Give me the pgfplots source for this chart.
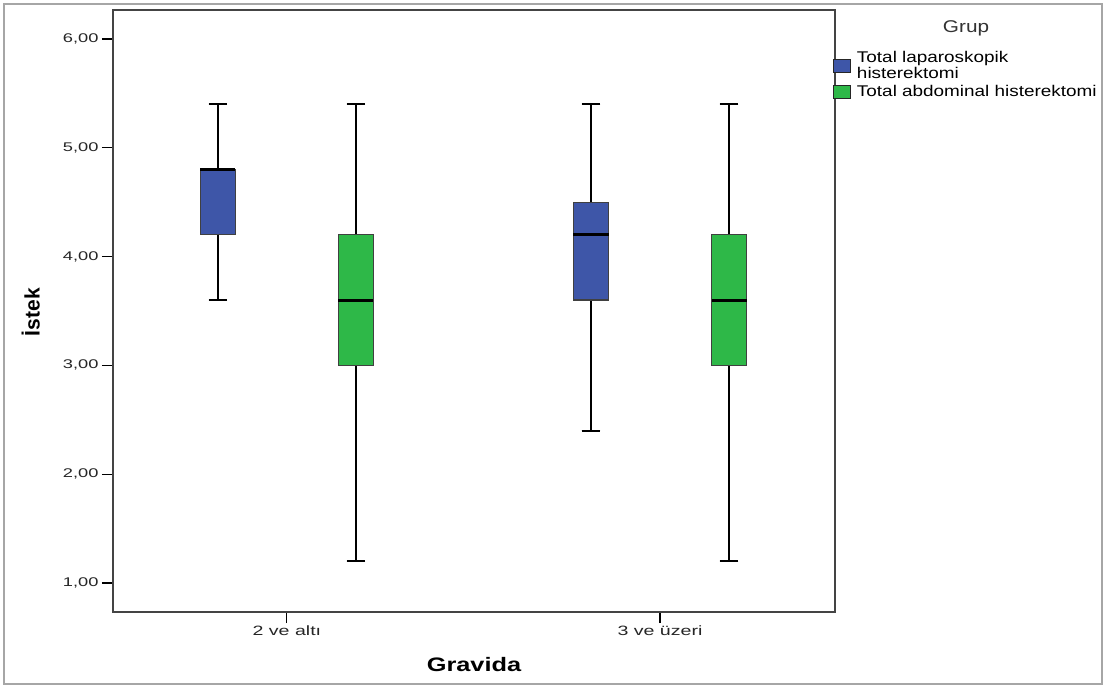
\documentclass[border=0pt]{standalone}
\usepackage{fontspec}
\setmainfont{Liberation Sans}
\newfontfamily\tickfont[FakeStretch=1.45]{Liberation Sans}
\newfontfamily\legfont[FakeStretch=1.22]{Liberation Sans}
\newfontfamily\labfont[FakeStretch=1.3]{Liberation Sans}
\usepackage{pgfplots}
\pgfplotsset{compat=1.18}
\usepgfplotslibrary{statistics}
\definecolor{lapblue}{RGB}{62,86,168}
\definecolor{abdgreen}{RGB}{46,184,72}
\definecolor{frame}{RGB}{68,68,68}
\begin{document}
\begin{tikzpicture}
\useasboundingbox (0,0) rectangle (1107bp,688bp);
\fill[white] (0,0) rectangle (1107bp,688bp);
\draw[gray!70, line width=2bp] (4bp,4bp) rectangle (1102bp,684bp);
\begin{axis}[
  at={(113bp,76bp)}, anchor=south west,
  scale only axis, width=722bp, height=602bp,
  xmin=-0.466, xmax=1.469, ymin=0.733, ymax=6.267,
  axis line style={frame, line width=1.2bp},
  tick align=outside, major tick length=11bp,
  tick style={black, line width=1.2bp},
  xtick={0,1}, xticklabels={2 ve altı, 3 ve üzeri},
  ytick={1,2,3,4,5,6},
  xtick pos=bottom, ytick pos=left,
  yticklabel style={/pgf/number format/.cd, fixed, fixed zerofill, precision=2, use comma, assume math mode=true},
  ticklabel style={font=\tickfont\fontsize{12.6bp}{14bp}\selectfont, text=black!85},
  xticklabel style={font=\tickfont\fontsize{13.5bp}{14bp}\selectfont, yshift=1bp},
  xlabel={Gravida}, ylabel={İstek},
  xlabel style={font=\labfont\fontsize{19.5bp}{20bp}\selectfont\bfseries, at={(axis description cs:0.5,-0.088)}, anchor=center},
  ylabel style={font=\fontsize{21bp}{22bp}\selectfont\bfseries, at={(axis description cs:-0.114,0.498)}, anchor=center},
  boxplot/draw direction=y,
  boxplot/every box/.style={draw=black!75, line width=1.3bp},
  boxplot/every whisker/.style={black, line width=1.7bp},
  boxplot/every median/.style={black, line width=3.2bp},
  legend style={at={(rel axis cs:0.9975,0.935)}, anchor=north west, draw=none, fill=none, inner sep=0pt, outer sep=0pt,
    font=\legfont\fontsize{15.5bp}{15bp}\selectfont, row sep=1bp, cells={anchor=west, align=left}},
  legend image code/.code={\draw[#1, draw=black!85, line width=1.2bp] (0bp,-6.5bp) rectangle (17bp,6.5bp); \path (21bp,0bp);},
]
\addplot[fill=lapblue, forget plot, boxplot prepared={lower whisker=3.6, lower quartile=4.2, median=4.8, upper quartile=4.8, upper whisker=5.4, draw position=-0.185, box extend=0.094, whisker extend=0.05}] coordinates {};
\addplot[fill=abdgreen, forget plot, boxplot prepared={lower whisker=1.2, lower quartile=3.0, median=3.6, upper quartile=4.2, upper whisker=5.4, draw position=0.185, box extend=0.094, whisker extend=0.05}] coordinates {};
\addplot[fill=lapblue, forget plot, boxplot prepared={lower whisker=2.4, lower quartile=3.6, median=4.2, upper quartile=4.5, upper whisker=5.4, draw position=0.815, box extend=0.094, whisker extend=0.05}] coordinates {};
\addplot[fill=abdgreen, forget plot, boxplot prepared={lower whisker=1.2, lower quartile=3.0, median=3.6, upper quartile=4.2, upper whisker=5.4, draw position=1.185, box extend=0.094, whisker extend=0.05}] coordinates {};
\addlegendimage{fill=lapblue}
\addlegendentry{Total laparoskopik\\[1.5bp]histerektomi}
\addlegendimage{fill=abdgreen}
\addlegendentry{Total abdominal histerektomi}
\end{axis}
\node[font=\legfont\fontsize{17bp}{18bp}\selectfont, text=black!80] at (966bp,660bp) {Grup};
\end{tikzpicture}
\end{document}
